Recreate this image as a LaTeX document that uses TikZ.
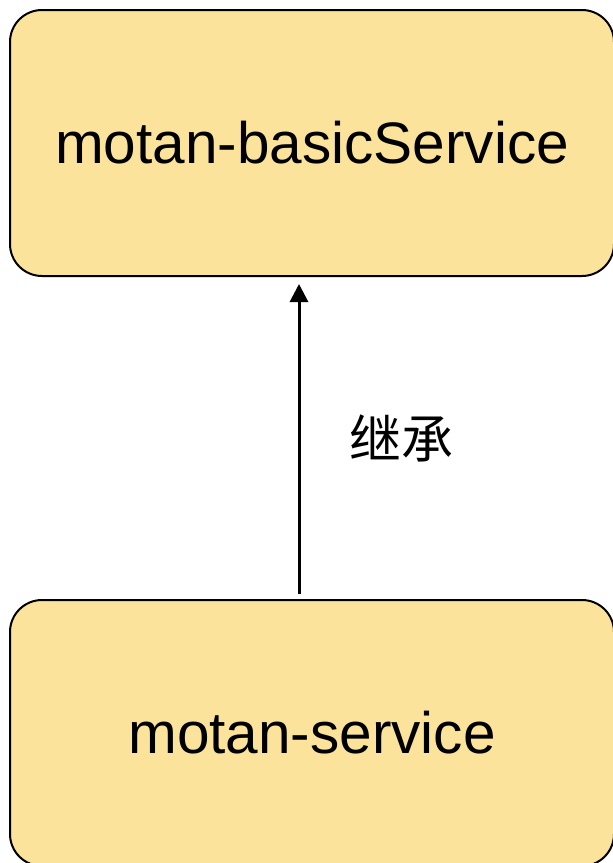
\documentclass[tikz,border=0pt]{standalone}
\usepackage{fontspec}
\setmainfont{Liberation Sans}
\newfontfamily\cjk{Noto Sans CJK SC}
\usetikzlibrary{arrows.meta}
\definecolor{modfill}{RGB}{251,227,156}
\tikzset{modbox/.style={rectangle, rounded corners=32pt, text centered, minimum height=266pt, minimum width=604pt, draw=black, line width=2pt, fill=modfill, font=\fontsize{58.5}{62}\selectfont}}

\begin{document}
\begin{tikzpicture}[x=1pt,y=1pt]
            \useasboundingbox (0, 0) rectangle (613, -863);
            \node [modbox] (basic) at (312, -143) {motan-basicService};
            \node [modbox] (service) at (312, -733) {motan-service};
            \draw [line width=3pt, -{Triangle[length=18pt, width=18pt]}, shorten <=5pt, shorten >=7pt] (service.north -| 299, 0) -- (basic.south -| 299, 0) node [midway, right=46pt, font=\cjk\fontsize{52}{56}\selectfont] (label) {继承};
        \end{tikzpicture}
\end{document}
